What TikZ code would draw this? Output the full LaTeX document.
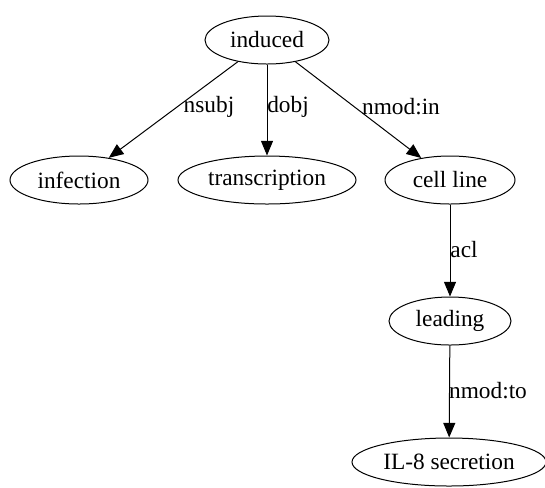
\documentclass[tikz,border=0pt]{standalone}
\usepackage{fontspec}
\setmainfont{Liberation Serif}
\usetikzlibrary{arrows.meta}
\usetikzlibrary{shapes.geometric}

\tikzset{
    word/.style={draw, ellipse, line width=0.75pt, inner sep=0pt, font=\fontsize{17.5}{20}\selectfont},
    dep/.style={draw, line width=0.75pt, -{Triangle[length=11pt, width=9pt]}},
    rel/.style={inner sep=0pt, font=\fontsize{17.5}{20}\selectfont},
}

\begin{document}
\begin{tikzpicture}[x=0.75pt, y=-0.75pt]
        \useasboundingbox (0,0) rectangle (545,487);
        \node[word, minimum width=124*0.75pt, minimum height=48*0.75pt] (induced)       at (267, 40) {induced};
        \node[word, minimum width=138*0.75pt, minimum height=48*0.75pt] (infection)     at ( 79,180) {infection};
        \node[word, minimum width=178*0.75pt, minimum height=48*0.75pt] (transcription) at (267,180) {transcription};
        \node[word, minimum width=130*0.75pt, minimum height=48*0.75pt] (cellline)      at (450,180) {cell line};
        \node[word, minimum width=122*0.75pt, minimum height=48*0.75pt] (leading)       at (450,321) {leading};
        \node[word, minimum width=194*0.75pt, minimum height=48*0.75pt] (secretion)     at (449,462) {IL-8 secretion};
        \draw[dep] (induced) -- (infection);
        \draw[dep] (induced) -- (transcription);
        \draw[dep] (induced) -- (cellline);
        \draw[dep] (cellline) -- (leading);
        \draw[dep] (leading) -- (secretion);
        \node[rel] (nsubj)  at (209,107) {nsubj};
        \node[rel] (dobj)   at (288,107) {dobj};
        \node[rel] (nmodin) at (401,107) {nmod:in};
        \node[rel] (acl)    at (464,250) {acl};
        \node[rel] (nmodto) at (488,391) {nmod:to};
    \end{tikzpicture}
\end{document}
